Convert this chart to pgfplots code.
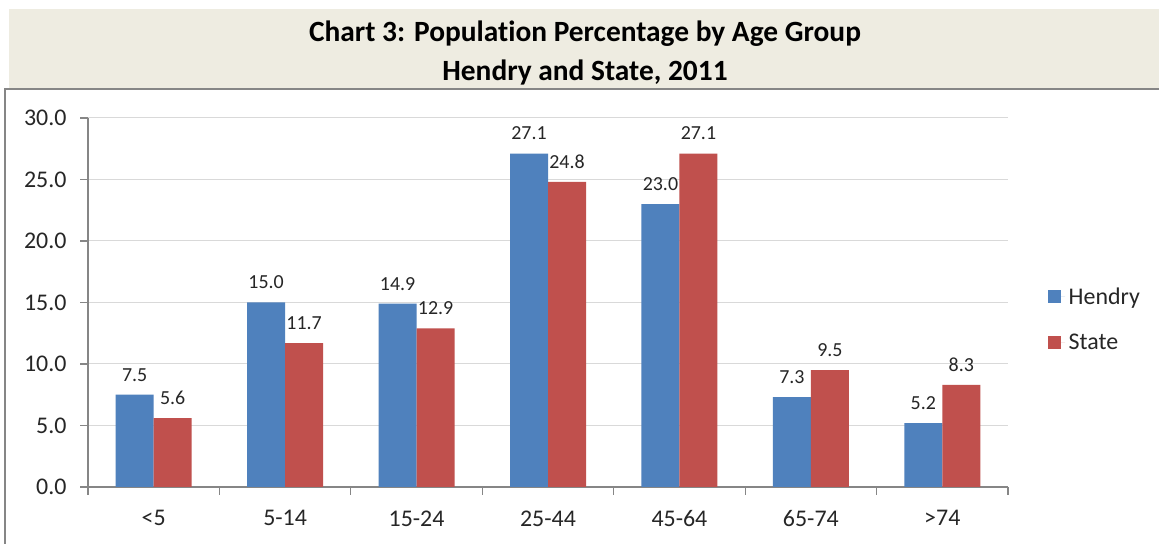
\documentclass[border=0pt]{standalone}
\usepackage{pgfplots}
\pgfplotsset{compat=1.18}
\usepackage{fontspec}
\setmainfont{Carlito}[Ligatures=NoCommon]
\definecolor{hblue}{HTML}{4F81BD}
\definecolor{sred}{HTML}{C0504D}
\definecolor{beige}{HTML}{EEECE1}
\definecolor{axgray}{HTML}{868686}
\definecolor{gridgray}{HTML}{D9D9D9}
\definecolor{txt}{HTML}{262626}
\begin{document}
\begin{tikzpicture}[x=1bp,y=1bp]
\useasboundingbox (0,0) rectangle (1159,544);
\fill[white] (0,0) rectangle (1159,544);
\fill[beige] (9,456) rectangle (1159,535);
\draw[axgray,line width=2bp] (5,-2) -- (5,455) -- (1162,455);
\node[font=\fontsize{29.5}{34}\selectfont\bfseries,text=black] at (585,510) {Chart 3: Population Percentage by Age Group};
\node[font=\fontsize{29.5}{34}\selectfont\bfseries,text=black] at (585,471.5) {Hendry and State, 2011};
\begin{axis}[
  at={(88bp,57bp)}, anchor=south west,
  scale only axis, width=920bp, height=369bp,
  ybar=0pt, bar width=38bp,
  xmin=-0.5, xmax=6.5, ymin=0, ymax=30,
  xtick={-0.5,0.5,...,6.5},
  x tick label as interval,
  xticklabels={{<5},{5-14},{15-24},{25-44},{45-64},{65-74},{>74}},
  ytick={0,5,...,30},
  axis x line*=bottom, axis y line*=left,
  axis line style={axgray, line width=1.2bp},
  tick style={axgray, line width=1.2bp},
  major tick length=8bp, tick align=outside,
  ymajorgrids, grid style={gridgray, line width=1bp},
  /pgf/number format/assume math mode=true,
  yticklabel style={xshift=-10bp, /pgf/number format/fixed, /pgf/number format/fixed zerofill, /pgf/number format/precision=1},
  xticklabel style={yshift=-12bp},
  ticklabel style={font=\fontsize{24}{28}\selectfont, text=txt},
  nodes near coords,
  nodes near coords style={font=\fontsize{20}{24}\selectfont, text=txt, yshift=10bp,
     /pgf/number format/fixed, /pgf/number format/fixed zerofill, /pgf/number format/precision=1, /pgf/number format/assume math mode=true},
  legend image code/.code={\path (0bp,0bp) -- (17bp,0bp); \fill[#1] (0bp,-6.5bp) rectangle (13bp,6.5bp);},
  legend style={draw=none, fill=none, at={(axis description cs:1.0435,0.454)}, anchor=west,
     font=\fontsize{24}{28}\selectfont, text=txt, row sep=28bp, inner sep=0pt,
     nodes={inner xsep=3.5bp, inner ysep=0pt}},
  legend cell align=left,
]
\addplot[fill=hblue, draw=none] coordinates {(0,7.5) (1,15.0) (2,14.9) (3,27.1) (4,23.0) (5,7.3) (6,5.2)};
\addplot[fill=sred, draw=none] coordinates {(0,5.6) (1,11.7) (2,12.9) (3,24.8) (4,27.1) (5,9.5) (6,8.3)};
\legend{Hendry, State}
\end{axis}
\end{tikzpicture}
\end{document}
